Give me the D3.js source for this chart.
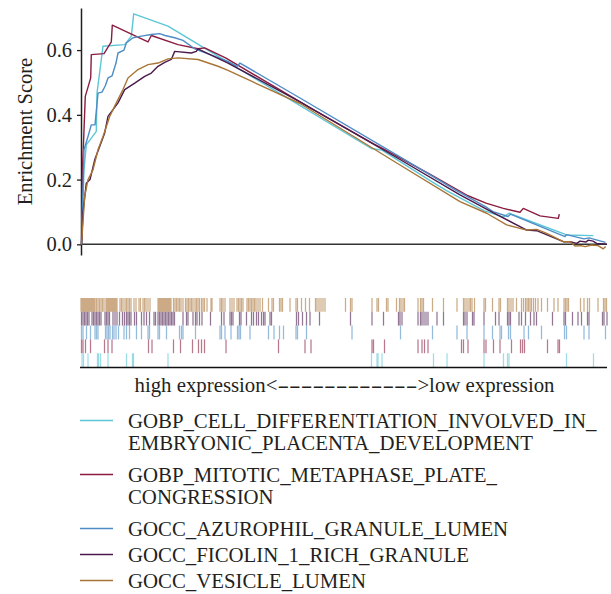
<!DOCTYPE html>
<html><head><meta charset="utf-8">
<script src="https://cdn.jsdelivr.net/npm/d3@7/dist/d3.min.js"></script>
<style>
body{margin:0;background:#fff}
svg{display:block}
svg text, svg tspan{font-family:"Liberation Serif","DejaVu Serif",serif !important;fill:#231f20}
</style>
</head><body><svg id="c" width="611" height="594"></svg>
<script>
// ---------------- data ----------------
const setNames = [
  "GOBP_CELL_DIFFERENTIATION_INVOLVED_IN_EMBRYONIC_PLACENTA_DEVELOPMENT",
  "GOBP_MITOTIC_METAPHASE_PLATE_CONGRESSION",
  "GOCC_AZUROPHIL_GRANULE_LUMEN",
  "GOCC_FICOLIN_1_RICH_GRANULE",
  "GOCC_VESICLE_LUMEN"
];
const legendLines = [
  ["GOBP_CELL_DIFFERENTIATION_INVOLVED_IN_", "EMBRYONIC_PLACENTA_DEVELOPMENT"],
  ["GOBP_MITOTIC_METAPHASE_PLATE_", "CONGRESSION"],
  ["GOCC_AZUROPHIL_GRANULE_LUMEN"],
  ["GOCC_FICOLIN_1_RICH_GRANULE"],
  ["GOCC_VESICLE_LUMEN"]
];
const setColors = ["#5cc6d6", "#8b1c40", "#4d8cc5", "#4a1a4c", "#a87536"];
const geneListSize = 5260;
const yTicks = [0.0, 0.2, 0.4, 0.6];
const yTitle = "Enrichment Score";
const axisLabelLeft = "high expression<";
const axisLabelDashes = "------------";
const axisLabelRight = ">low expression";

// running enrichment scores: [rank, ES]
const esPlacenta = [[5,0],[30,0.23],[53,0.307],[153,0.349],[160,0.467],[203,0.571],[220,0.612],[437,0.617],[503,0.643],[527,0.712],[870,0.674],[2903,0.296],[3010,0.291],[3527,0.19],[3660,0.165],[4030,0.104],[4223,0.084],[4280,0.096],[4857,0.029],[5123,0.027]];
const esMitotic = [[5,0],[17,0.25],[43,0.457],[97,0.514],[103,0.586],[230,0.589],[303,0.625],[313,0.677],[670,0.625],[703,0.645],[970,0.617],[1170,0.604],[1237,0.607],[1450,0.575],[1973,0.48],[2300,0.42],[2927,0.31],[3033,0.293],[3470,0.22],[3870,0.15],[4050,0.127],[4223,0.111],[4390,0.099],[4423,0.111],[4590,0.088],[4773,0.08],[4783,0.093]];
const esAzurophil = [[5,0],[30,0.292],[70,0.333],[103,0.369],[140,0.369],[170,0.467],[210,0.47],[243,0.49],[270,0.514],[310,0.52],[350,0.56],[370,0.591],[430,0.6],[453,0.622],[520,0.638],[603,0.643],[703,0.648],[787,0.651],[840,0.645],[937,0.638],[1020,0.63],[1137,0.604],[1470,0.565],[1560,0.55],[1590,0.56],[2190,0.452],[3190,0.27],[3760,0.165],[4040,0.117],[4120,0.101],[4270,0.086],[4295,0.093],[4840,0.024],[4855,0.03],[5030,0.017],[5080,0.02],[5245,0.006]];
const esFicolin = [[5,0],[20,0.1],[53,0.189],[90,0.2],[137,0.261],[187,0.302],[237,0.344],[270,0.395],[320,0.416],[370,0.437],[437,0.478],[537,0.498],[637,0.519],[703,0.529],[770,0.55],[837,0.562],[903,0.571],[937,0.596],[1103,0.591],[1153,0.596],[1170,0.604],[1470,0.56],[2190,0.44],[3190,0.262],[3790,0.153],[4120,0.098],[4457,0.044],[4557,0.042],[4823,0.008],[4890,0.008],[4957,0.003],[4990,0.01],[5050,0.007],[5073,0.013],[5120,0.01],[5157,0.003],[5257,0.0]];
const esVesicle = [[5,0],[37,0.148],[70,0.2],[120,0.23],[170,0.292],[220,0.333],[287,0.395],[353,0.437],[420,0.478],[470,0.514],[570,0.54],[670,0.555],[770,0.56],[870,0.573],[970,0.576],[1170,0.571],[1370,0.55],[1470,0.537],[2190,0.435],[3190,0.245],[3790,0.132],[4057,0.096],[4257,0.06],[4457,0.044],[4557,0.046],[4657,0.034],[4823,0.008],[4890,0.008],[4940,-0.005],[5000,-0.004],[5040,-0.007],[5107,-0.002],[5170,-0.004],[5223,-0.014],[5247,-0.007]];

// gene-set member ranks (rug)
const hitsPlacenta = [10,25,70,165,175,195,270,455,515,525,870,2905,2960,2970,3010,3525,3660,4030,4225,4265,4280,4855,5125];
const hitsMitotic = [5,20,45,95,235,270,310,675,710,925,995,1115,1175,1205,1235,1450,1975,2240,2300,2910,2925,3035,3370,3410,3435,3470,3805,3825,3870,4030,4050,4125,4190,4305,4395,4415,4435,4665,4770,4785];
const hitsAzurophil = [5,20,55,95,140,155,170,245,260,275,290,315,330,350,375,430,455,485,555,605,670,685,770,785,855,985,1005,1020,1145,1390,1405,1440,1500,1565,1580,1595,1690,1875,1930,1985,2025,2150,2165,2255,2710,3195,3515,3760,3860,4030,4115,4190,4205,4275,4295,4430,4475,4605,4835,4855,5030,5080,5245];
const hitsFicolin = [5,20,35,50,65,80,110,125,140,155,170,185,200,240,255,270,285,320,340,360,385,415,435,455,470,485,500,535,555,605,630,655,685,730,745,770,785,800,815,830,845,860,875,890,905,920,935,1020,1055,1070,1120,1145,1160,1185,1210,1295,1405,1430,1490,1505,1520,1585,1600,1655,1705,1725,1755,1775,1805,1825,1840,1890,1905,2155,2175,2215,2255,2290,2385,2695,2910,3025,3175,3190,3210,3370,3395,3410,3430,3450,3470,3560,3625,3825,3840,3860,3915,3930,4030,4145,4180,4265,4280,4295,4380,4405,4445,4495,4530,4555,4715,4830,4845,4915,4970,5005,5065,5080,5215,5230,5260];
const hitsVesicle = [0,10,20,30,40,50,60,70,80,90,100,110,120,130,140,155,170,185,200,215,230,250,260,270,280,290,300,310,320,330,340,350,360,390,405,420,440,455,470,485,500,530,550,580,595,620,635,650,670,690,770,780,790,800,810,820,830,840,850,860,870,880,890,900,925,940,955,970,985,1000,1020,1045,1060,1075,1090,1105,1120,1140,1155,1170,1185,1205,1220,1235,1260,1300,1310,1390,1405,1420,1440,1490,1510,1530,1560,1575,1590,1605,1620,1660,1675,1690,1705,1720,1735,1750,1770,1790,1815,1875,1910,1925,1985,2000,2015,2090,2150,2165,2205,2245,2285,2345,2360,2380,2400,2420,2440,2645,2695,2710,2910,2960,2975,3055,3070,3155,3185,3200,3220,3235,3370,3395,3410,3425,3515,3625,3760,3825,3840,3860,3880,3895,3910,3935,4030,4045,4115,4180,4195,4265,4280,4300,4320,4355,4405,4425,4445,4460,4475,4490,4505,4525,4545,4570,4605,4665,4730,4770,4830,4845,4860,4875,4995,5030,5065,5085,5170,5225,5240,5255];

const esSeries = [esPlacenta, esMitotic, esAzurophil, esFicolin, esVesicle];
const hitSeries = [hitsPlacenta, hitsMitotic, hitsAzurophil, hitsFicolin, hitsVesicle];

// ---------------- drawing ----------------
const SERIF = '"Liberation Serif","DejaVu Serif",serif';
const svg = d3.select("#c");
const ink = "#231f20";
const x = d3.scaleLinear().domain([0, geneListSize]).range([81, 607]);
const y = d3.scaleLinear().domain([-0.033, 0.73]).range([255, 8]);

// y axis
const yAxis = svg.append("g").attr("transform", "translate(81,0)")
  .call(d3.axisLeft(y).tickValues(yTicks).tickFormat(d3.format(".1f")).tickSize(4).tickSizeOuter(0).tickPadding(5));
yAxis.attr("font-family", SERIF);
yAxis.select(".domain").attr("stroke", ink).attr("stroke-width", 1.5);
yAxis.selectAll(".tick line").attr("stroke", ink).attr("stroke-width", 1.3);
yAxis.selectAll(".tick text").attr("font-size", 20.5).style("font-family", SERIF).attr("fill", ink);

svg.append("text").attr("transform", "translate(32,131.5) rotate(-90)")
  .attr("text-anchor", "middle").attr("font-size", 20.5).style("font-family", SERIF).text(yTitle);

// zero line
svg.append("line").attr("x1", x(0)).attr("x2", x(geneListSize)).attr("y1", y(0)).attr("y2", y(0))
  .attr("stroke", "#333").attr("stroke-width", 1.5);

// ES curves
const line = d3.line().x(d => x(d[0])).y(d => y(d[1]));
svg.append("g").selectAll("path").data(esSeries).join("path")
  .attr("d", line).attr("fill", "none").attr("stroke", (d, i) => setColors[i])
  .attr("stroke-width", 1.4).attr("stroke-linejoin", "round");

// rug
const rowOrder = [4, 3, 2, 1, 0];
const band = d3.scaleBand().domain(rowOrder).range([298, 367]);
const rug = svg.append("g");
rowOrder.forEach(si => {
  rug.append("g").selectAll("line").data(hitSeries[si]).join("line")
    .attr("x1", d => x(d)).attr("x2", d => x(d))
    .attr("y1", band(si)).attr("y2", band(si) + band.bandwidth())
    .attr("stroke", setColors[si]).attr("stroke-width", 1.25).attr("stroke-opacity", 0.6);
});
svg.append("line").attr("x1", 80).attr("x2", x(geneListSize)).attr("y1", 367.5).attr("y2", 367.5)
  .attr("stroke", "#111").attr("stroke-width", 1.6);

// expression label
const lab = svg.append("text").attr("x", 344.5).attr("y", 392).attr("text-anchor", "middle")
  .attr("font-size", 20.8).style("font-family", SERIF);
lab.append("tspan").text(axisLabelLeft);
lab.append("tspan").attr("textLength", 140).attr("lengthAdjust", "spacingAndGlyphs").text(axisLabelDashes);
lab.append("tspan").text(axisLabelRight);

// legend
let ly = 428;
legendLines.forEach((lines, i) => {
  svg.append("line").attr("x1", 80).attr("x2", 113).attr("y1", ly - 7.5).attr("y2", ly - 7.5)
    .attr("stroke", setColors[i]).attr("stroke-width", 1.5);
  const t = svg.append("text").attr("x", 128).attr("y", ly).attr("font-size", 20.8).style("font-family", SERIF);
  lines.forEach((s, j) => t.append("tspan").attr("x", 128).attr("dy", j === 0 ? 0 : 22).text(s));
  ly += 28 * lines.length - 2;
});
</script>
</body></html>
